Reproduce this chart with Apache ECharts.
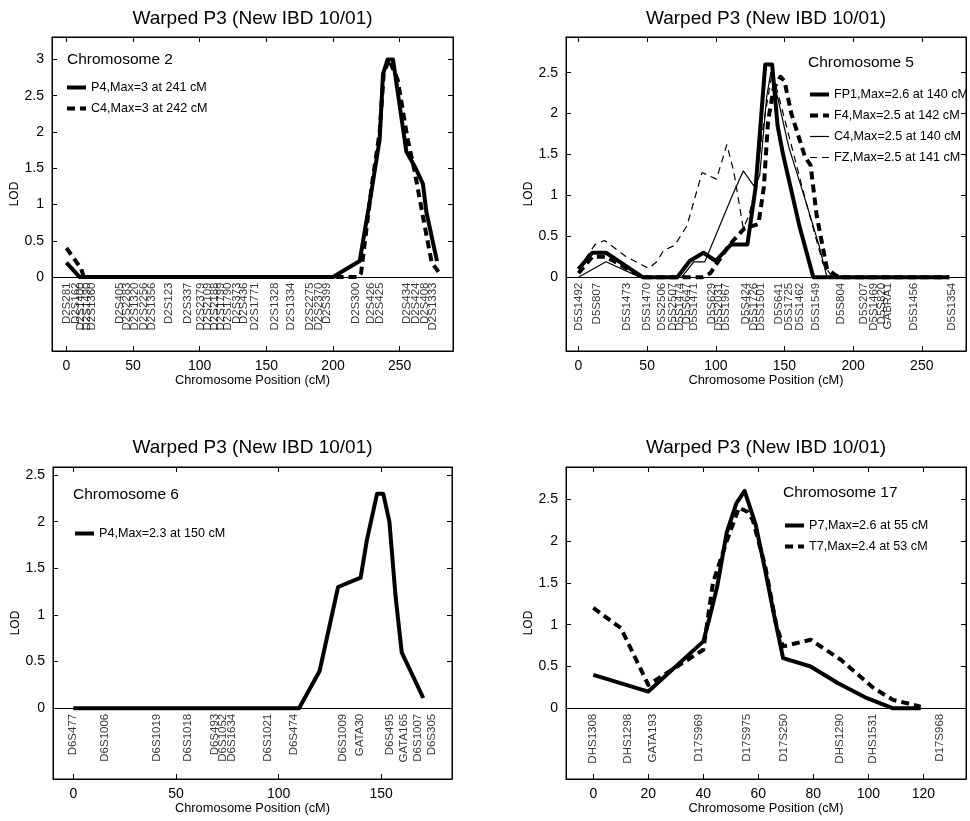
<!DOCTYPE html>
<html><head><meta charset="utf-8">
<script src="https://cdn.jsdelivr.net/npm/echarts@6/dist/echarts.min.js"></script>
<style>html,body{margin:0;padding:0;background:#fff}#c{width:970px;height:821px}</style>
</head><body><div id="c"></div>
<script>
// ---------------- DATA ----------------
const titleText = 'Warped P3 (New IBD 10/01)';
const xAxisTitle = 'Chromosome Position (cM)';
const yAxisTitle = 'LOD';

// Chromosome 2
const chr2Label = 'Chromosome 2';
const chr2MarkerNames = ['D2S281','D2S162','D2S1400','D2S1490','D2S1360','D2S405','D2S2283','D2S1320','D2S2256','D2S1356','D2S123','D2S337','D2S2379','D2S2109','D2S2188','D2S1799','D2S1790','D2S373','D2S436','D2S1771','D2S1328','D2S1334','D2S2275','D2S2370','D2S399','D2S300','D2S426','D2S425','D2S434','D2S424','D2S408','D2S1333'];
const chr2MarkerPos   = [0,7,11,15,19,40,45.5,51.5,58,64,77,91,101,106,111,116,121,128,133,141,156,168,182.5,189,195,217,228,235,255,262,269,275];
const chr2SeriesNames = ['P4,Max=3 at 241 cM','C4,Max=3 at 242 cM'];
const chr2P4 = [[0,0.2],[10,0],[200,0],[220,0.22],[229,1.2],[235,1.9],[237.5,2.8],[241,3.0],[245,3.0],[255,1.73],[262,1.5],[267.5,1.28],[270,0.9],[278,0.22]];
const chr2C4 = [[0,0.4],[11,0.12],[13,0],[219,0],[221,0.05],[229,1.25],[235,2.0],[238,2.8],[242,3.0],[248.5,2.72],[256,1.9],[261,1.48],[267.5,0.83],[274,0.2],[278,0.1],[281,0.02]];
const chr2XTicks = [0,50,100,150,200,250];
const chr2YTicks = [0,0.5,1,1.5,2,2.5,3];

// Chromosome 5
const chr5Label = 'Chromosome 5';
const chr5MarkerNames = ['D5S1492','D5S807','D5S1473','D5S1470','D5S2506','D5S2507','D5S1474','D5S647','D5S1471','D5S629','D5S2031','D5S1967','D5S424','D5S1726','D5S1501','D5S641','D5S1725','D5S1462','D5S1549','D5S804','D5S207','D5S1469','D5S820','GABRA1','D5S1456','D5S1354'];
const chr5MarkerPos   = [0,13,35,50,61,69,74,79,84,97,102,107,121.5,127.5,132.5,146,153,161.5,172.5,191,208,215,221,225,244.5,272];
const chr5SeriesNames = ['FP1,Max=2.6 at 140 cM','F4,Max=2.5 at 142 cM','C4,Max=2.5 at 140 cM','FZ,Max=2.5 at 141 cM'];
const chr5FP1 = [[0,0.1],[10,0.3],[20,0.3],[47,0],[72,0],[81,0.2],[91,0.3],[100,0.2],[111,0.4],[123,0.4],[129,1.1],[136,2.6],[141,2.6],[145,1.85],[149,1.5],[161,0.62],[171,0],[270,0]];
const chr5F4  = [[0,0.05],[10,0.25],[20,0.25],[47,0],[90,0],[96,0.05],[110,0.4],[121,0.6],[131,0.65],[135,1.1],[138,1.9],[142,2.3],[147,2.45],[150,2.4],[155,2.0],[165,1.47],[169,1.37],[173.5,0.75],[181,0.1],[187,0.03],[190,0],[270,0]];
const chr5C4  = [[0,0],[20,0.19],[45,0],[75,0],[84,0.19],[92,0.19],[112,1.0],[120,1.3],[128.5,1.1],[132,1.25],[137,2.2],[140,2.5],[145,2.2],[153,1.6],[166,0.9],[175,0.4],[181,0],[270,0]];
const chr5FZ  = [[0,0.1],[12,0.4],[19,0.45],[34,0.26],[51,0.11],[57,0.19],[62,0.33],[70,0.39],[79,0.63],[90,1.28],[100.5,1.2],[108,1.62],[113,1.3],[120,0.6],[124,0.75],[129,1.1],[134,1.8],[141,2.5],[146,2.2],[154,1.68],[166,0.9],[178,0.17],[185,0],[270,0]];
const chr5XTicks = [0,50,100,150,200,250];
const chr5YTicks = [0,0.5,1,1.5,2,2.5];

// Chromosome 6
const chr6Label = 'Chromosome 6';
const chr6MarkerNames = ['D6S477','D6S1006','D6S1019','D6S1018','D6S493','D6S1052','D6S1634','D6S1021','D6S474','D6S1009','GATA30','D6S495','GATA165','D6S1007','D6S305'];
const chr6MarkerPos   = [0,15.4,40.6,56,69,73,77,95,107.5,131.5,139.6,154.3,160.8,168,174.6];
const chr6SeriesNames = ['P4,Max=2.3 at 150 cM'];
const chr6P4 = [[0,0],[110,0],[120,0.4],[129,1.3],[140,1.4],[143,1.8],[148,2.3],[151,2.3],[154,2.0],[157,1.2],[160,0.6],[170.5,0.11]];
const chr6XTicks = [0,50,100,150];
const chr6YTicks = [0,0.5,1,1.5,2,2.5];

// Chromosome 17
const chr17Label = 'Chromosome 17';
const chr17MarkerNames = ['DHS1308','DHS1298','GATA193','D17S969','D17S975','D17S250','DHS1290','DHS1531','D17S968'];
const chr17MarkerPos   = [0,12.7,21.8,38.2,55.8,69.1,89.7,101.8,126];
const chr17SeriesNames = ['P7,Max=2.6 at 55 cM','T7,Max=2.4 at 53 cM'];
const chr17P7 = [[0,0.4],[20,0.2],[40,0.8],[42,1.05],[45,1.45],[48.5,2.1],[52,2.45],[55,2.6],[59,2.2],[62.5,1.65],[65.5,1.15],[69,0.6],[79,0.5],[89,0.3],[99.5,0.12],[109,0],[119,0]];
const chr17T7 = [[0,1.2],[10,0.96],[20,0.28],[40,0.7],[43.5,1.5],[48.5,2.0],[53,2.4],[56,2.35],[58,2.25],[62.5,1.7],[66.5,1.0],[69,0.74],[79,0.82],[90,0.58],[102,0.24],[109,0.1],[119,0.02]];
const chr17XTicks = [0,20,40,60,80,100,120];
const chr17YTicks = [0,0.5,1,1.5,2,2.5];

// ---------------- LAYOUT / STYLE ----------------
const FONT = "'Liberation Sans', Arial, Helvetica, sans-serif";
const THICK = 4, THIN = 1.2;
const DASH_THICK = [8,5], DASH_THIN = [7,5];

const panels = [
  { grid:{left:52,top:37,width:401,height:314}, x:[-10.8,290], y:[-1.02,3.31],
    xt:chr2XTicks, yt:chr2YTicks, names:chr2MarkerNames, pos:chr2MarkerPos,
    series:[{name:chr2SeriesNames[0],data:chr2P4,w:THICK,dash:null},{name:chr2SeriesNames[1],data:chr2C4,w:THICK,dash:DASH_THICK}],
    legend:{left:65,top:81}, chrom:{text:chr2Label,x:67,y:60}, title:{x:252.5,y:19} },
  { grid:{left:566,top:37,width:400,height:314}, x:[-9.1,282.2], y:[-0.9,2.936],
    xt:chr5XTicks, yt:chr5YTicks, names:chr5MarkerNames, pos:chr5MarkerPos,
    series:[{name:chr5SeriesNames[0],data:chr5FP1,w:THICK,dash:null},{name:chr5SeriesNames[1],data:chr5F4,w:THICK,dash:DASH_THICK},
            {name:chr5SeriesNames[2],data:chr5C4,w:THIN,dash:null},{name:chr5SeriesNames[3],data:chr5FZ,w:THIN,dash:DASH_THIN}],
    legend:{left:808,top:88}, chrom:{text:chr5Label,x:808,y:63}, title:{x:766,y:19} },
  { grid:{left:53,top:467,width:399,height:312}, x:[-9.9,184.5], y:[-0.758,2.586],
    xt:chr6XTicks, yt:chr6YTicks, names:chr6MarkerNames, pos:chr6MarkerPos,
    series:[{name:chr6SeriesNames[0],data:chr6P4,w:THICK,dash:null}],
    legend:{left:73,top:527}, chrom:{text:chr6Label,x:73,y:495}, title:{x:252.5,y:448} },
  { grid:{left:566,top:467,width:400,height:312}, x:[-9.93,135.5], y:[-0.846,2.886],
    xt:chr17XTicks, yt:chr17YTicks, names:chr17MarkerNames, pos:chr17MarkerPos,
    series:[{name:chr17SeriesNames[0],data:chr17P7,w:THICK,dash:null},{name:chr17SeriesNames[1],data:chr17T7,w:THICK,dash:DASH_THICK}],
    legend:{left:783,top:519}, chrom:{text:chr17Label,x:783,y:493}, title:{x:766,y:448} }
];

const option = { animation:false, backgroundColor:'#fff', grid:[], xAxis:[], yAxis:[], series:[], legend:[], graphic:[] };
const black = {color:'#000', width:1};

panels.forEach((p, i) => {
  option.grid.push(Object.assign({show:true, borderColor:'#000', borderWidth:1, backgroundColor:'#fff', containLabel:false}, p.grid));
  const common = {type:'value', gridIndex:i, splitLine:{show:false}};
  option.xAxis.push(Object.assign({}, common, {
    min:p.x[0], max:p.x[1], position:'bottom',
    axisLine:{show:true, onZero:false, lineStyle:black},
    axisTick:{show:true, inside:true, length:5, customValues:p.xt, lineStyle:black},
    axisLabel:{show:true, customValues:p.xt, fontSize:14, color:'#000', fontFamily:FONT, margin:8},
    name:xAxisTitle, nameLocation:'middle', nameGap:22, nameTextStyle:{fontSize:12.8, color:'#000', fontFamily:FONT}
  }));
  option.xAxis.push(Object.assign({}, common, {
    min:p.x[0], max:p.x[1], position:'top',
    axisLine:{show:true, onZero:false, lineStyle:black},
    axisTick:{show:true, inside:true, length:5, customValues:p.xt, lineStyle:black},
    axisLabel:{show:false}
  }));
  option.yAxis.push(Object.assign({}, common, {
    min:p.y[0], max:p.y[1], position:'left',
    axisLine:{show:true, onZero:false, lineStyle:black},
    axisTick:{show:true, inside:true, length:5, customValues:p.yt, lineStyle:black},
    axisLabel:{show:true, customValues:p.yt, fontSize:14, color:'#000', fontFamily:FONT, margin:8},
    name:yAxisTitle, nameLocation:'middle', nameGap:19, nameTextStyle:{fontSize:12, color:'#000', fontFamily:FONT}
  }));
  option.yAxis.push(Object.assign({}, common, {
    min:p.y[0], max:p.y[1], position:'right',
    axisLine:{show:true, onZero:false, lineStyle:black},
    axisTick:{show:true, inside:true, length:5, customValues:p.yt, lineStyle:black},
    axisLabel:{show:false}
  }));
  const xi = 2*i, yi = 2*i;
  // zero line + marker labels
  option.series.push({
    type:'scatter', xAxisIndex:xi, yAxisIndex:yi, silent:true, symbolSize:1, z:5,
    itemStyle:{color:'rgba(0,0,0,0)'},
    data:p.names.map((n,j)=>({name:n, value:[p.pos[j],0]})),
    label:{show:true, formatter:'{b}', rotate:90, position:'bottom', distance:5, align:'right', verticalAlign:'middle',
           fontSize:11.5, fontFamily:FONT, color:'#000'},
    markLine:{silent:true, symbol:'none', label:{show:false}, animation:false,
              lineStyle:{color:'#000', width:1, type:'solid'}, data:[{yAxis:0}]}
  });
  p.series.forEach(s => {
    option.series.push({
      type:'line', name:s.name, xAxisIndex:xi, yAxisIndex:yi, data:s.data, symbol:'none', showSymbol:false, silent:true, z:3,
      lineStyle:{color:'#000', width:s.w, type:s.dash ? s.dash : 'solid', join:'round', cap:'butt'},
      itemStyle:{color:'#000'}
    });
  });
  option.legend.push({
    orient:'vertical', left:p.legend.left, top:p.legend.top, padding:0, itemWidth:19, itemHeight:14, itemGap:8,
    selectedMode:false,
    itemStyle:{opacity:0, color:'rgba(0,0,0,0)', borderWidth:0},
    data:p.series.map(s=>({name:s.name, itemStyle:{opacity:0, color:'rgba(0,0,0,0)', borderWidth:0},
                            lineStyle:{width:s.w, color:'#000', type:s.dash ? s.dash : 'solid'}})),
    textStyle:{fontSize:12.6, color:'#000', fontFamily:FONT}
  });
  option.graphic.push({type:'text', x:p.title.x, y:p.title.y, silent:true,
    style:{text:titleText, fontSize:19, fontFamily:FONT, fill:'#000', align:'center', verticalAlign:'middle'}});
  option.graphic.push({type:'text', x:p.chrom.x, y:p.chrom.y, silent:true,
    style:{text:p.chrom.text, fontSize:15.5, fontFamily:FONT, fill:'#000', align:'left', verticalAlign:'middle'}});
});

const chart = echarts.init(document.getElementById('c'), null, {renderer:'canvas'});
chart.setOption(option);
</script>
</body></html>
